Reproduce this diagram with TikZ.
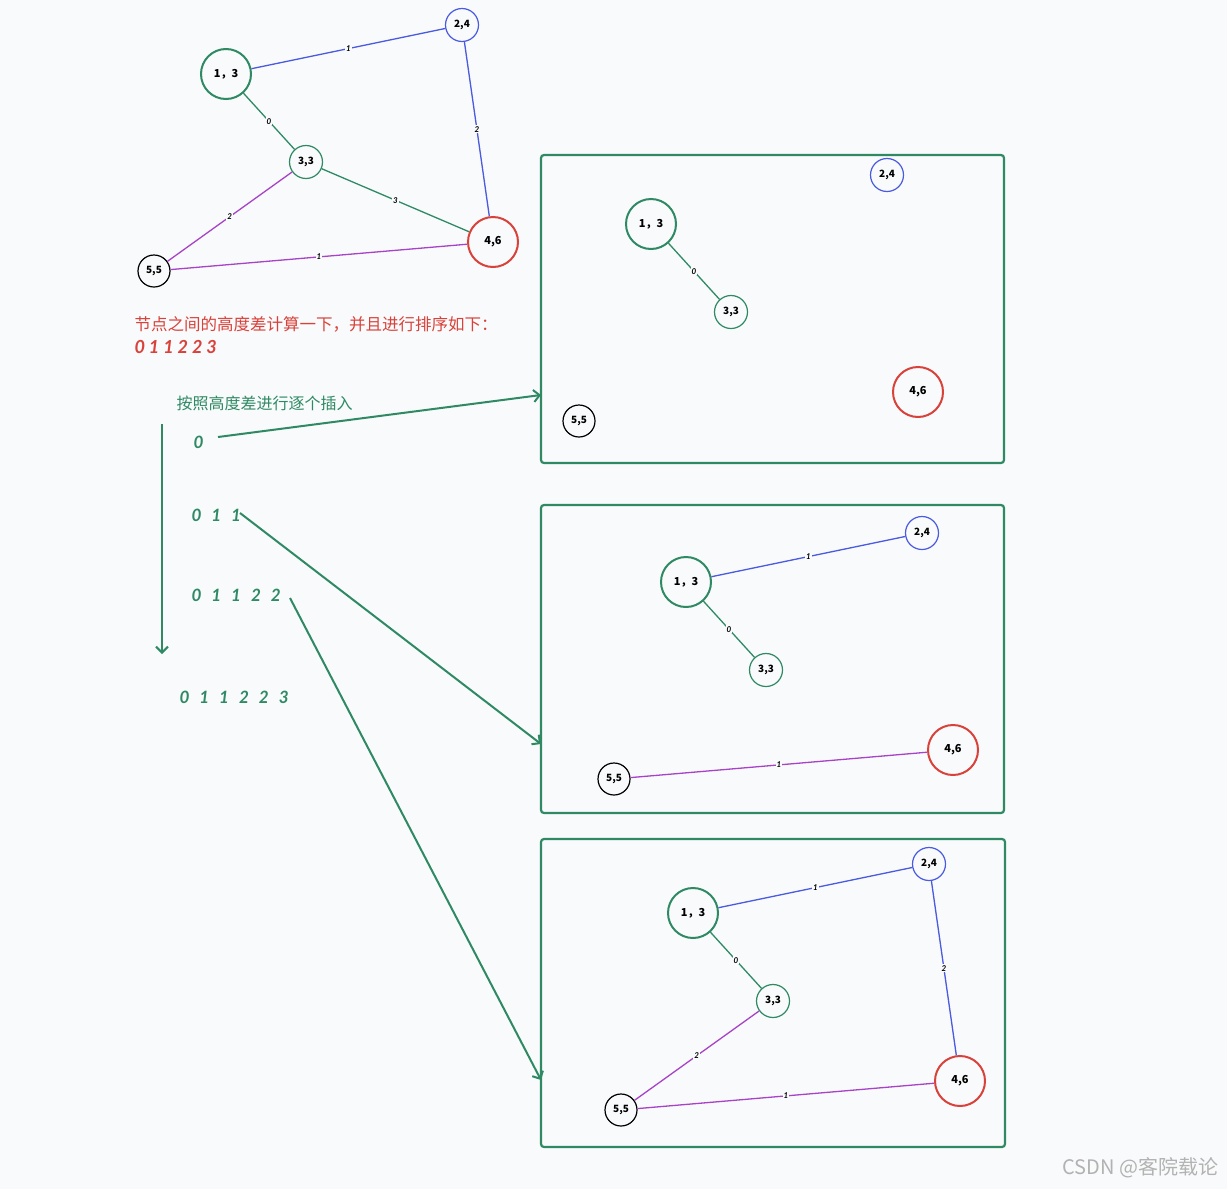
\documentclass[tikz,border=0pt]{standalone}
\usepackage{fontspec}
\setmainfont{Noto Sans CJK SC}
\newfontfamily\latf{Lato}
\usetikzlibrary{arrows.meta}
\definecolor{bg}{HTML}{F8FAFB}
\definecolor{gr}{HTML}{2F8A64}
\definecolor{bl}{HTML}{4A5BE0}
\definecolor{rd}{HTML}{D9423A}
\definecolor{pu}{HTML}{A843C8}
\tikzset{
 x=1pt,y=-1pt,
 vbig/.style={circle,draw,line width=2pt,minimum size=50pt,inner sep=0pt,font=\fontsize{11}{12}\selectfont\bfseries},
 vsmall/.style={circle,draw,line width=1.2pt,minimum size=33pt,inner sep=0pt,font=\fontsize{10}{11}\selectfont\bfseries},
 elab/.style={fill=bg,inner sep=1pt,font=\latf\fontsize{8}{9}\selectfont\itshape\bfseries},
 eg/.style={draw=gr,line width=1.3pt},
 eb/.style={draw=bl,line width=1.3pt},
 ep/.style={draw=pu,line width=1.3pt},
 arr/.style={draw=gr,line width=2pt,-{Straight Barb[length=6pt]}},
 seq/.style={anchor=west,text=gr,font=\latf\fontsize{17}{19}\selectfont\bfseries\itshape},
 box/.style={draw=gr,line width=2.2pt,rounded corners=3pt}
}
\newcommand{\gnodes}[3]{%
 \node[vbig,draw=gr] (#1a) at (#2,#3) {1，3};
 \node[vsmall,draw=bl] (#1b) at (#2+236,#3-49) {2,4};
 \node[vsmall,draw=gr] (#1c) at (#2+80,#3+88) {3,3};
 \node[vbig,draw=rd] (#1d) at (#2+267,#3+168) {4,6};
 \node[vsmall,draw=black,minimum size=32pt] (#1e) at (#2-72,#3+197) {5,5};
}
\newcommand{\gp}{\hspace{10pt}}
\begin{document}
\begin{tikzpicture}
\fill[bg] (0,0) rectangle (1227,1189);
\useasboundingbox (0,0) rectangle (1227,1189);
\gnodes{t}{226}{74}
\draw[eb] (ta) -- node[elab]{1} (tb);
\draw[eg] (ta) -- node[elab]{0} (tc);
\draw[eb] (tb) -- node[elab]{2} (td);
\draw[eg] (tc) -- node[elab]{3} (td);
\draw[ep] (tc) -- node[elab]{2} (te);
\draw[ep] (te) -- node[elab]{1} (td);
\node[anchor=west,text=rd,font=\fontsize{16.5}{18}\selectfont] (t1) at (131,324) {节点之间的高度差计算一下，并且进行排序如下：};
\node[anchor=west,text=rd,font=\latf\fontsize{18}{20}\selectfont\bfseries\itshape] (t2) at (131,347) {0 1 1 2 2 3};
\node[anchor=west,text=gr,font=\fontsize{16}{18}\selectfont] (t3) at (173,403) {按照高度差进行逐个插入};
\coordinate (v1) at (162,424); \coordinate (v2) at (162,654);
\draw[arr] (v1) -- (v2);
\node[seq] (s1) at (190,442) {0};
\node[seq] (s2) at (188,515) {0\gp 1\gp 1};
\node[seq] (s3) at (188,595) {0\gp 1\gp 1\gp 2\gp 2};
\node[seq] (s4) at (176,697) {0\gp 1\gp 1\gp 2\gp 2\gp 3};
\draw[box] (541,155) rectangle (1004,463);
\draw[box] (541,505) rectangle (1004,813);
\draw[box] (541,839) rectangle (1005,1147);
\coordinate (a1s) at (218,437); \coordinate (a1e) at (541,395);
\coordinate (a2s) at (240,513); \coordinate (a2e) at (541,744);
\coordinate (a3s) at (290,598); \coordinate (a3e) at (541,1080);
\draw[arr] (a1s) -- (a1e);
\draw[arr] (a2s) -- (a2e);
\draw[arr] (a3s) -- (a3e);
\gnodes{p}{651}{224}
\draw[eg] (pa) -- node[elab]{0} (pc);
\gnodes{q}{686}{582}
\draw[eb] (qa) -- node[elab]{1} (qb);
\draw[eg] (qa) -- node[elab]{0} (qc);
\draw[ep] (qe) -- node[elab]{1} (qd);
\gnodes{r}{693}{913}
\draw[eb] (ra) -- node[elab]{1} (rb);
\draw[eg] (ra) -- node[elab]{0} (rc);
\draw[eb] (rb) -- node[elab]{2} (rd);
\draw[ep] (rc) -- node[elab]{2} (re);
\draw[ep] (re) -- node[elab]{1} (rd);
\node[anchor=east,text=gray!60,font=\fontsize{20}{22}\selectfont] (wm) at (1222,1168) {CSDN @客院载论};
\end{tikzpicture}
\end{document}
